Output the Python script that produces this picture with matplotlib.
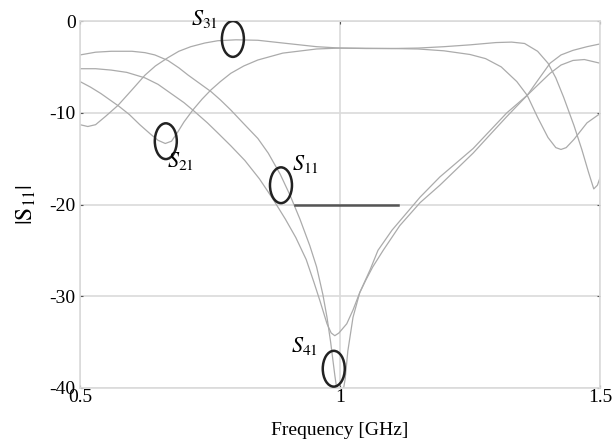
import matplotlib
matplotlib.use("Agg")
import matplotlib.pyplot as plt
from matplotlib.patches import Ellipse

plt.rcParams['font.family'] = 'serif'
plt.rcParams['font.serif'] = ['Liberation Serif', 'DejaVu Serif']
plt.rcParams['mathtext.fontset'] = 'stix'

# ---------- data (freq in GHz, level in dB) ----------
f_s31 = [0.50, 0.515, 0.53, 0.549, 0.573, 0.60, 0.625, 0.645, 0.669, 0.69, 0.713,
         0.74, 0.765, 0.80, 0.842, 0.89, 0.955, 1.00, 1.05, 1.10, 1.15, 1.20, 1.25,
         1.30, 1.33, 1.355, 1.38, 1.40, 1.415, 1.43, 1.45, 1.465, 1.478, 1.488,
         1.495, 1.50]
s31 = [-11.3, -11.5, -11.3, -10.4, -9.2, -7.5, -5.9, -4.9, -4.0, -3.3, -2.8,
       -2.4, -2.15, -2.05, -2.1, -2.4, -2.8, -2.95, -3.0, -3.0, -2.95, -2.8, -2.6,
       -2.35, -2.3, -2.45, -3.3, -4.6, -6.2, -8.3, -11.4, -14.0, -16.5, -18.3,
       -17.9, -17.1]

f_s21 = [0.50, 0.52, 0.54, 0.56, 0.575, 0.595, 0.615, 0.635, 0.65, 0.664, 0.676,
         0.688, 0.70, 0.717, 0.735, 0.752, 0.77, 0.79, 0.815, 0.842, 0.89, 0.955,
         1.00, 1.10, 1.15, 1.20, 1.25, 1.28, 1.31, 1.34, 1.36, 1.38, 1.40, 1.415,
         1.425, 1.435, 1.45, 1.475, 1.50]
s21 = [-6.6, -7.2, -7.9, -8.7, -9.3, -10.2, -11.3, -12.3, -13.0, -13.35, -13.1,
       -12.1, -11.0, -9.7, -8.5, -7.5, -6.6, -5.7, -4.9, -4.25, -3.5, -3.05,
       -2.95, -3.0, -3.05, -3.25, -3.65, -4.1, -5.0, -6.6, -8.1, -10.5, -12.7, -13.8,
       -14.0, -13.8, -12.9, -11.1, -10.1]

f_s41 = [0.50, 0.53, 0.56, 0.59, 0.625, 0.65, 0.675, 0.70, 0.721, 0.745, 0.765,
         0.79, 0.817, 0.845, 0.871, 0.895, 0.915, 0.935, 0.95, 0.962, 0.975, 0.983,
         0.99, 0.998, 1.013, 1.025, 1.038, 1.05, 1.063, 1.083, 1.115, 1.154, 1.192,
         1.225, 1.256, 1.29, 1.321, 1.36, 1.38, 1.404, 1.425, 1.448, 1.47, 1.50]
s41 = [-5.2, -5.2, -5.35, -5.6, -6.2, -6.9, -7.9, -8.9, -9.9, -11.1, -12.2,
       -13.6, -15.2, -17.2, -19.4, -21.6, -23.6, -26.0, -28.5, -30.6, -33.0, -34.0,
       -34.3, -34.0, -33.0, -31.5, -29.6, -28.2, -26.8, -25.0, -22.3, -19.8, -17.9,
       -16.1, -14.4, -12.3, -10.4, -8.1, -7.0, -5.7, -4.8, -4.3, -4.2, -4.6]

f_s11 = [0.50, 0.53, 0.56, 0.60, 0.625, 0.644, 0.669, 0.69, 0.708, 0.73, 0.752,
         0.77, 0.79, 0.815, 0.842, 0.862, 0.885, 0.904, 0.923, 0.942, 0.955, 0.967,
         0.975, 0.982, 0.99, 0.996, 1.004, 1.01, 1.015, 1.025, 1.038, 1.058, 1.073,
         1.10, 1.154, 1.192, 1.256, 1.321, 1.36, 1.38, 1.404, 1.425, 1.448, 1.475, 1.50]
s11 = [-3.7, -3.4, -3.3, -3.3, -3.45, -3.7, -4.3, -5.1, -5.9, -6.8, -7.7,
       -8.6, -9.7, -11.2, -12.8, -14.4, -16.7, -19.0, -21.6, -24.5, -26.8, -29.8,
       -32.3, -35.0, -38.6, -41.0, -41.0, -39.0, -36.0, -32.3, -29.6, -27.1, -25.0,
       -22.8, -19.2, -17.0, -13.9, -10.0, -8.1, -6.5, -4.6, -3.7, -3.2, -2.8, -2.5]

# spec line at -20 dB
spec_f = [0.913, 1.112]
spec_level = [-20, -20]

# markers: (label, ellipse centre f, ellipse centre dB, text f, text baseline dB)
marks = [
    ("31", 0.794, -1.96, 0.713, -0.44),
    ("21", 0.665, -13.1, 0.668, -15.9),
    ("11", 0.8865, -17.9, 0.907, -16.2),
    ("41", 0.988, -37.9, 0.906, -36.1),
]

fig = plt.figure(figsize=(6.15, 4.45), dpi=100)
ax = fig.add_axes([80 / 615, 1 - 388 / 445, 520 / 615, 367 / 445])

curve_col = '#ababab'
for f, s in [(f_s31, s31), (f_s21, s21), (f_s41, s41), (f_s11, s11)]:
    ax.plot(f, s, color=curve_col, lw=0.9, zorder=2)

ax.plot(spec_f, spec_level, color='#555555', lw=1.8, zorder=3)

for lab, ef, es, tf, ts in marks:
    ax.add_patch(Ellipse((ef, es), 0.0423, 3.9, fill=False, ec='#222222', lw=1.8, zorder=4))
    ax.text(tf, ts, r'$S_{%s}$' % lab, fontsize=16, ha='left', va='baseline', zorder=5)

ax.set_xlim(0.5, 1.5)
ax.set_ylim(-40, 0)
ax.set_xticks([0.5, 1, 1.5])
ax.set_xticklabels(['0.5', '1', '1.5'])
ax.set_yticks([0, -10, -20, -30, -40])
ax.set_yticklabels(['0', '-10', '-20', '-30', '-40'])
ax.grid(True, color='#dadada', lw=1.2)
ax.set_axisbelow(True)
for sp in ax.spines.values():
    sp.set_color('#dadada')
    sp.set_linewidth(1.2)
ax.tick_params(direction='in', length=2, width=0.8, color='#555555',
               labelsize=14, top=True, right=True, pad=3)
ax.tick_params(axis='x', pad=1)

ax.set_xlabel('Frequency [GHz]', fontsize=14, labelpad=11)
ax.set_ylabel(r'$|\mathrm{S}_{11}|$', fontsize=17, labelpad=8)

fig.savefig('out.png', dpi=100)
